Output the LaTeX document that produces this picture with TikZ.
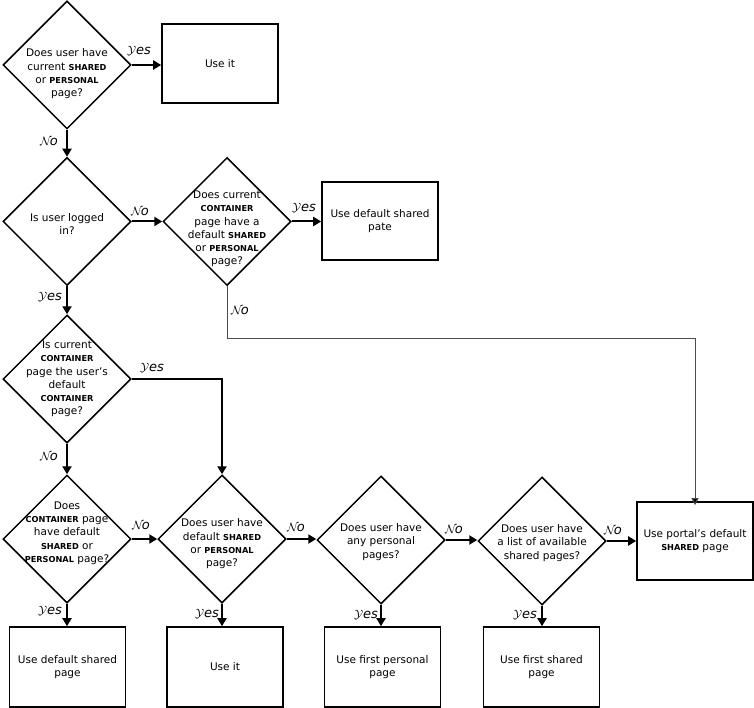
\documentclass[tikz,border=0pt]{standalone}
\usepackage{fontspec}
\setmainfont{DejaVu Sans}
\usetikzlibrary{shapes.geometric,arrows.meta}
\newcommand{\KW}[1]{{\fontsize{8.2}{10}\selectfont\bfseries #1}}
\newcommand{\LYes}{{\fontsize{13}{14}\selectfont$\mathcal{Y}\mathit{es}$}}
\newcommand{\LNo}{{\fontsize{13}{14}\selectfont$\mathcal{N}\!\mathit{o}$}}
\tikzset{
  dia/.style={draw=black, line width=1.5pt, diamond, aspect=1, inner sep=0pt,
    minimum width=128pt, minimum height=128pt},
  dtext/.style={align=center, inner sep=0pt, font=\fontsize{10.5}{13.3}\selectfont, text=black},
  box/.style={draw=black, line width=1.6pt, rectangle, minimum width=116pt, minimum height=79pt,
    align=center, inner sep=0pt, font=\fontsize{10.5}{13.6}\selectfont, text=black},
  arr/.style={line width=2pt, -{Triangle[length=8pt,width=9pt]}},
  thinarr/.style={line width=1pt, draw=black!70, -{Triangle[length=7pt,width=7pt,fill=black]}},
  lab/.style={inner sep=0pt}
}
\begin{document}
\begin{tikzpicture}[x=1pt,y=-1pt]
\useasboundingbox (0,0) rectangle (754,708);
% diamonds
\node[dia] (d1) at (67,65) {};
\node[dia] (d2) at (67,221.5) {};
\node[dia] (d3) at (227,221.5) {};
\node[dia] (d4) at (67,379) {};
\node[dia] (d5) at (67,539) {};
\node[dia] (d6) at (222,539) {};
\node[dia] (d7) at (381,540) {};
\node[dia] (d8) at (542,541) {};
% diamond texts
\node[dtext] (t1) at (67,74) {Does user have\\current \KW{SHARED}\\or \KW{PERSONAL}\\page?};
\node[dtext] (t2) at (67,224) {Is user logged\\in?};
\node[dtext] (t3) at (227,229) {Does current\\\KW{CONTAINER}\\page have a\\default \KW{SHARED}\\or \KW{PERSONAL}\\page?};
\node[dtext] (t4) at (67,379) {Is current\\\KW{CONTAINER}\\page the user's\\default\\\KW{CONTAINER}\\page?};
\node[dtext] (t5) at (67,533) {Does\\\KW{CONTAINER} page\\have default\\\KW{SHARED} or\\\KW{PERSONAL} page?};
\node[dtext] (t6) at (222,544) {Does user have\\default \KW{SHARED}\\or \KW{PERSONAL}\\page?};
\node[dtext] (t7) at (381,542) {Does user have\\any personal\\pages?};
\node[dtext] (t8) at (542,543) {Does user have\\a list of available\\shared pages?};
% boxes
\node[box] (b1) at (220,63.5) {Use it};
\node[box] (b2) at (380,221) [minimum height=78pt] {Use default shared\\pate};
\node[box] (b7) at (695,541) [minimum height=78pt] {Use portal’s default\\\KW{SHARED} page};
\node[box] (b3) at (67.5,667) [minimum height=80pt] {Use default shared\\page};
\node[box] (b4) at (225,667) [minimum height=80pt] {Use it};
\node[box] (b5) at (382.5,667) [minimum height=80pt] {Use first personal\\page};
\node[box] (b6) at (541.5,667) [minimum height=80pt] {Use first shared\\page};
% connectors
\draw[arr] (d1.east) -- (d1.east -| b1.west);
\draw[arr] (d1.south) -- (d2.north);
\draw[arr] (d2.east) -- (d3.west);
\draw[arr] (d3.east) -- (d3.east -| b2.west);
\draw[arr] (d2.south) -- (d4.north);
\coordinate (c1) at (227,338);
\draw[thinarr] (d3.south) -- (c1) -| ([yshift=-4pt]b7.north);
\draw[arr] (d4.east) -| (d6.north);
\draw[arr] (d4.south) -- (d5.north);
\draw[arr] (d5.east) -- (d6.west);
\draw[arr] (d6.east) -- (d6.east -| d7.west);
\draw[arr] (d7.east) -- (d7.east -| d8.west);
\draw[arr] (d8.east) -- (d8.east -| b7.west);
\draw[arr] (d5.south) -- (d5.south |- b3.north);
\draw[arr] (d6.south) -- (d6.south |- b4.north);
\draw[arr] (d7.south) -- (d7.south |- b5.north);
\draw[arr] (d8.south) -- (d8.south |- b6.north);
% labels
\node[lab] (l1) at (139,51) {\LYes};
\node[lab] (l2) at (49,141) {\LNo};
\node[lab] (l3) at (140,211) {\LNo};
\node[lab] (l4) at (304,208) {\LYes};
\node[lab] (l5) at (50,297) {\LYes};
\node[lab] (l6) at (240,310) {\LNo};
\node[lab] (l7) at (152,368) {\LYes};
\node[lab] (l8) at (49,456) {\LNo};
\node[lab] (l9) at (141,525) {\LNo};
\node[lab] (l10) at (296,527) {\LNo};
\node[lab] (l11) at (454,529) {\LNo};
\node[lab] (l12) at (613,530) {\LNo};
\node[lab] (l13) at (50,611) {\LYes};
\node[lab] (l14) at (207,614) {\LYes};
\node[lab] (l15) at (366,615) {\LYes};
\node[lab] (l16) at (525,615) {\LYes};
\end{tikzpicture}
\end{document}
